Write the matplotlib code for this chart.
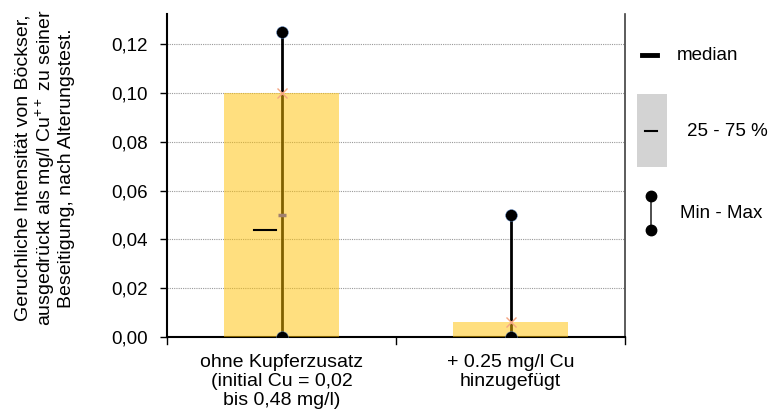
import matplotlib
matplotlib.use("Agg")
import matplotlib.pyplot as plt
from matplotlib.patches import Rectangle
from matplotlib.lines import Line2D

plt.rcParams['font.family'] = ['Liberation Sans', 'DejaVu Sans']
plt.rcParams['mathtext.fontset'] = 'custom'
plt.rcParams['mathtext.rm'] = 'Liberation Sans'
plt.rcParams['mathtext.it'] = 'Liberation Sans'

categories = ["ohne Kupferzusatz\n(initial Cu = 0,02\nbis 0,48 mg/l)",
              "+ 0.25 mg/l Cu\nhinzugefügt"]
bar_values = [0.100, 0.006]      # 75 % quantile (bar height)
q_mid = [0.050, 0.000]           # marker inside box
medians = [0.044, 0.000]
mins = [0.000, 0.000]
maxs = [0.125, 0.050]
yticks = [0.00, 0.02, 0.04, 0.06, 0.08, 0.10, 0.12]
ytick_labels = ["0,00", "0,02", "0,04", "0,06", "0,08", "0,10", "0,12"]

FS = 13.5
W, H = 771, 418
fig = plt.figure(figsize=(W / 100, H / 100), dpi=100)
ax = fig.add_axes([167 / W, 1 - 337 / H, (625 - 167) / W, (337 - 14) / H])

x = [0.5, 1.5]

# min-max whiskers
for xi, lo, hi in zip(x, mins, maxs):
    ax.plot([xi, xi], [lo, hi], color='black', lw=2, zorder=2)
    ax.plot([xi, xi], [lo, hi], 'o', color='black', ms=8.5, zorder=4,
            markeredgecolor='#5b8bd0', markeredgewidth=0.3)

# bars
ax.bar(x, bar_values, width=0.505, color='#FFC000', alpha=0.5, zorder=3)

# x markers at bar top
ax.plot(x, bar_values, 'x', color='#f4a582', ms=7, mew=1, zorder=3.5)
# small mid marker
ax.plot([x[0]], [q_mid[0]], '_', color='#a08070', ms=6, mew=2.5, zorder=3.5)

# medians (drawn slightly left)
for xi, m in zip(x, medians):
    if m > 0:
        ax.plot([xi - 0.12, xi - 0.025], [m, m], color='black', lw=1.5, zorder=5)

ax.set_xlim(0, 2)
ax.set_ylim(0, (337 - 14) / 48.83 * 0.02)
ax.set_yticks(yticks)
ax.set_yticklabels(ytick_labels, fontsize=FS)
ax.set_xticks(x)
ax.set_xticklabels(categories, fontsize=14, linespacing=1.15)
ax.tick_params(axis='x', length=0, pad=12)
ax.tick_params(axis='y', length=5, width=1, direction='out', pad=9)

# category separator ticks
for xt in [0, 1, 2]:
    ax.plot([xt, xt], [0, -0.0030], color='black', lw=1, clip_on=False)

ax.grid(axis='y', color='#999999', lw=0.8, ls=(0, (1, 1)), zorder=0)
ax.set_axisbelow(True)
ax.spines['top'].set_visible(False)
ax.spines['left'].set_linewidth(1.5)
ax.spines['bottom'].set_linewidth(1.5)
ax.spines['right'].set_linewidth(1.2)
ax.spines['right'].set_color('#404040')

fig.text(45 / W, 1 - 168 / H,
         "Geruchliche Intensität von Böckser,\nausgedrückt als mg/l Cu$^{++}$ zu seiner\nBeseitigung, nach Alterungstest.",
         rotation=90, ha='center', va='center', fontsize=14, linespacing=1.1,
         multialignment='center')

# legend (figure pixel coordinates)
def fx(px):
    return px / W

def fy(py):
    return 1 - py / H

fig.add_artist(Line2D([fx(642), fx(657)], [fy(55), fy(55)], color='black', lw=3.5))
fig.text(fx(677), fy(55), "median", ha='left', va='center', fontsize=FS)
fig.add_artist(Rectangle((fx(637), fy(167)), fx(30), (167 - 94) / H,
                         facecolor='#d3d3d3', edgecolor='none'))
fig.add_artist(Line2D([fx(645), fx(657)], [fy(131), fy(131)], color='black', lw=1.5))
fig.text(fx(687), fy(131), "25 - 75 %", ha='left', va='center', fontsize=FS)
fig.add_artist(Line2D([fx(651), fx(651)], [fy(196), fy(230)], color='#404040', lw=1.3))
fig.add_artist(Line2D([fx(651), fx(651)], [fy(196), fy(230)], color='black', lw=0,
                      marker='o', ms=7.5))
fig.text(fx(680), fy(213), "Min - Max", ha='left', va='center', fontsize=FS)

fig.savefig("out.png", dpi=100)
